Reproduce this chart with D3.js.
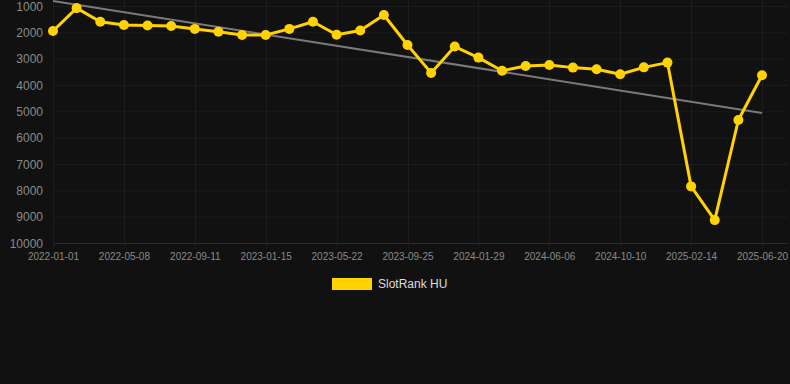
<!DOCTYPE html>
<html><head><meta charset="utf-8">
<script src="https://cdn.jsdelivr.net/npm/d3@7"></script>
<style>
html,body{margin:0;padding:0;background:#111111;}
svg{display:block;font-family:Arial,"Liberation Sans",sans-serif;}
</style></head>
<body><svg id="c" width="790" height="384"></svg>
<script>
const dates = ["2022-01-01","2022-02-12","2022-03-26","2022-05-08","2022-06-19","2022-07-31","2022-09-11","2022-10-23","2022-12-04","2023-01-15","2023-02-26","2023-04-09","2023-05-22","2023-07-03","2023-08-14","2023-09-25","2023-11-06","2023-12-18","2024-01-29","2024-03-11","2024-04-24","2024-06-06","2024-07-18","2024-08-29","2024-10-10","2024-11-21","2025-01-03","2025-02-14","2025-03-28","2025-05-09","2025-06-20"];
const rankValues = [1950,1080,1600,1720,1740,1760,1870,1980,2100,2100,1870,1600,2090,1930,1340,2480,3540,2540,2960,3460,3280,3240,3340,3400,3590,3330,3150,7850,9130,5330,3630];
const trendValues = [810,5060];
const yTicks = [1000,2000,3000,4000,5000,6000,7000,8000,9000,10000];
const seriesName = "SlotRank HU";

const svg = d3.select("#c");
const x = d3.scalePoint().domain(dates).range([53,762]);
const y = d3.scaleLinear().domain([1000,10000]).range([6,243]);
const xTickLabels = dates.filter((d,i)=>i%3===0);

// grid
const g = svg.append("g");
g.selectAll("line.h").data(yTicks).enter().append("line")
  .attr("x1",53).attr("x2",788).attr("y1",d=>y(d)+0.5).attr("y2",d=>y(d)+0.5)
  .attr("stroke",d=>d===10000?"#2a2a2a":"#1c1c1c").attr("stroke-width",1);
g.selectAll("line.v").data(xTickLabels).enter().append("line")
  .attr("x1",d=>Math.round(x(d))+0.5).attr("x2",d=>Math.round(x(d))+0.5)
  .attr("y1",0).attr("y2",249)
  .attr("stroke","#1c1c1c").attr("stroke-width",1);

// y axis labels
const yAxis = d3.axisLeft(y).tickValues(yTicks).tickSize(0).tickPadding(0).tickFormat(d3.format("d"));
const ya = svg.append("g").attr("transform","translate(43,0)").call(yAxis);
ya.select(".domain").remove();
ya.selectAll("text").attr("fill","#8a8a8a").style("font-size","12px").attr("dy","0.35em");

// x axis labels
const xAxis = d3.axisBottom(x).tickValues(xTickLabels).tickSize(0).tickPadding(0);
const xa = svg.append("g").attr("transform","translate(0,253)").call(xAxis);
xa.select(".domain").remove();
xa.selectAll("text").attr("fill","#8a8a8a").style("font-size","10px").attr("dy","0.71em");

// trend line
svg.append("line")
  .attr("x1",x(dates[0])).attr("y1",y(trendValues[0]))
  .attr("x2",x(dates[dates.length-1])).attr("y2",y(trendValues[1]))
  .attr("stroke","#7a7a7a").attr("stroke-width",2);

// series line
const data = dates.map((d,i)=>({d,v:rankValues[i]}));
svg.append("path").datum(data)
  .attr("fill","none").attr("stroke","#FFD200").attr("stroke-width",3).attr("stroke-linejoin","round")
  .attr("d",d3.line().x(p=>x(p.d)).y(p=>y(p.v)));
svg.selectAll("circle").data(data).enter().append("circle")
  .attr("cx",p=>x(p.d)).attr("cy",p=>y(p.v)).attr("r",5).attr("fill","#FFD200");

// legend
svg.append("rect").attr("x",332).attr("y",278).attr("width",40).attr("height",12).attr("fill","#FFD200");
svg.append("text").attr("x",378).attr("y",284).attr("dy","0.35em").attr("fill","#dddddd")
  .style("font-size","12px").text(seriesName);
</script></body></html>
